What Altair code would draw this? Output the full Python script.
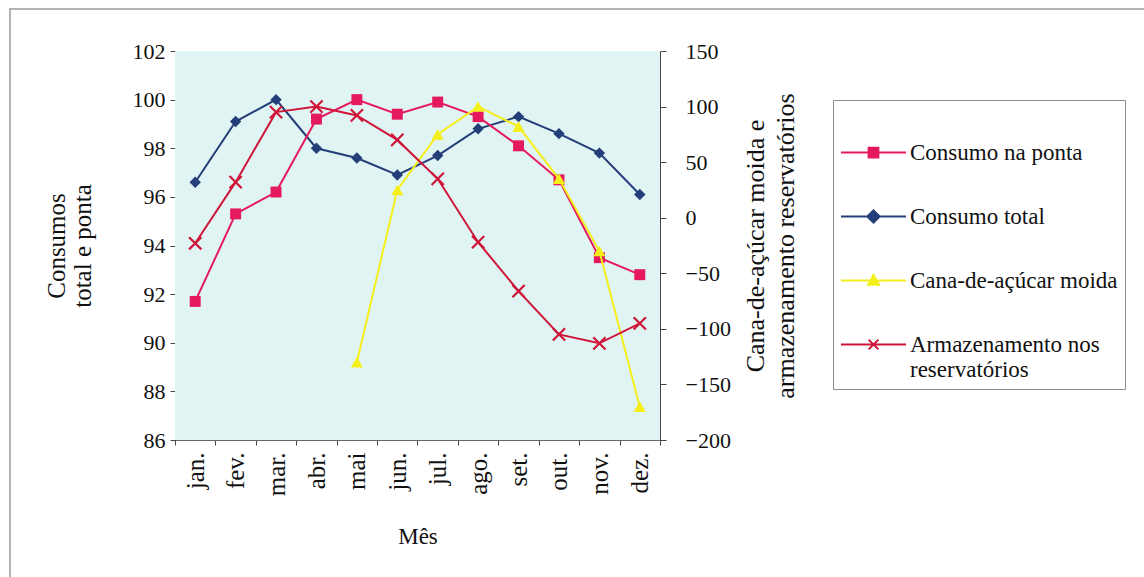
import altair as alt
import pandas as pd

# ---------------- data ----------------
meses = ["jan.", "fev.", "mar.", "abr.", "mai", "jun.", "jul.", "ago.", "set.", "out.", "nov.", "dez."]
consumo_ponta = [91.7, 95.3, 96.2, 99.2, 100.0, 99.4, 99.9, 99.3, 98.1, 96.7, 93.5, 92.8]
consumo_total = [96.6, 99.1, 100.0, 98.0, 97.6, 96.9, 97.7, 98.8, 99.3, 98.6, 97.8, 96.1]
cana_meses = ["mai", "jun.", "jul.", "ago.", "set.", "out.", "nov.", "dez."]
cana_moida = [-130, 25, 75, 100, 82, 35, -30, -170]
armazenamento = [-23, 32, 95, 100, 92, 70, 35, -22, -66, -105, -113, -95]

nomes = ["Consumo na ponta", "Consumo total", "Cana-de-açúcar moida", "Armazenamento nos reservatórios"]
cores = ["#E5195E", "#233E78", "#F4EE1A", "#CF1538"]

left_ticks = [86, 88, 90, 92, 94, 96, 98, 100, 102]
right_ticks = [-200, -150, -100, -50, 0, 50, 100, 150]

# legend symbols: line with marker
leg_paths = [
    "M-1,0L1,0M-0.15,-0.15L0.15,-0.15L0.15,0.15L-0.15,0.15Z",
    "M-1,0L1,0M-0.19,0L0,-0.19L0.19,0L0,0.19Z",
    "M-1,0L1,0M0,-0.17L0.17,0.13L-0.17,0.13Z",
    "M-1,0L1,0M-0.15,-0.15L0.15,0.15M-0.15,0.15L0.15,-0.15",
]
x_shape = "M-1,-1L1,1M-1,1L1,-1"

FONT = "Liberation Serif"
FS = 22


def serie_df(nome, xs, ys):
    return pd.DataFrame({"mes": xs, "valor": ys, "serie": nome})


df_ponta = serie_df(nomes[0], meses, consumo_ponta)
df_total = serie_df(nomes[1], meses, consumo_total)
df_cana = serie_df(nomes[2], cana_meses, cana_moida)
df_arm = serie_df(nomes[3], meses, armazenamento)
df_all = pd.concat([df_ponta, df_total, df_cana, df_arm], ignore_index=True)

x_enc = alt.X(
    "mes:N",
    sort=meses,
    scale=alt.Scale(domain=meses),
    axis=alt.Axis(
        title="Mês",
        labelAngle=270,
        labelFontSize=25,
        titleFontSize=23,
        tickBand="extent",
        tickSize=5,
        labelPadding=7,
        titlePadding=30,
        domainColor="#666666",
        tickColor="#444444",
    ),
)

y_left = alt.Y(
    "valor:Q",
    scale=alt.Scale(domain=[86, 102], nice=False, zero=False),
    axis=alt.Axis(
        values=left_ticks,
        title=["Consumos", "total e ponta"],
        titleFontSize=25,
        titleLineHeight=26,
        tickSize=5,
        labelPadding=5,
        titlePadding=37,
        domainColor="#444444",
        tickColor="#444444",
    ),
)

y_right = alt.Y(
    "valor:Q",
    scale=alt.Scale(domain=[-200, 150], nice=False, zero=False),
    axis=alt.Axis(
        orient="right",
        values=right_ticks,
        title=["Cana-de-açúcar moida e", "armazenamento reservatórios"],
        titleAngle=270,
        titleBaseline="top",
        titleFontSize=26,
        titleLineHeight=30,
        tickSize=6,
        labelPadding=19,
        titlePadding=-18,
        domainColor="#444444",
        tickColor="#444444",
    ),
)


def camada(df, cor, y_enc, forma, tamanho, filled=True, sw=1):
    base = alt.Chart(df).encode(x=x_enc, y=y_enc)
    linha = base.mark_line(color=cor, strokeWidth=2)
    pts = base.mark_point(shape=forma, color=cor, filled=filled, size=tamanho, opacity=1, strokeWidth=sw)
    return [linha, pts]


left = alt.layer(
    *camada(df_total, cores[1], y_left, "diamond", 130),
    *camada(df_ponta, cores[0], y_left, "square", 120),
)
right = alt.layer(
    *camada(df_cana, cores[2], y_right, "triangle-up", 150),
    *camada(df_arm, cores[3], y_right, x_shape, 150, filled=False, sw=2.2),
)

leg = alt.Legend(
    orient="none",
    legendX=658,
    legendY=49,
    title=" ",
    titleFontSize=9,
    titlePadding=3,
    labelFont=FONT,
    labelFontSize=23,
    labelColor="#111111",
    labelLimit=400,
    labelOffset=3,
    labelExpr="datum.label == 'Armazenamento nos reservatórios' ? ['Armazenamento nos', 'reservatórios'] : datum.label",
    symbolSize=4225,
    symbolStrokeWidth=2,
    rowPadding=18,
    padding=7,
    strokeColor="#8c8c8c",
    fillColor="#ffffff",
)

legenda = (
    alt.Chart(df_all)
    .mark_point(filled=True, opacity=1)
    .encode(
        fill=alt.Fill("serie:N", scale=alt.Scale(domain=nomes, range=cores), legend=leg),
        stroke=alt.Stroke("serie:N", scale=alt.Scale(domain=nomes, range=cores), legend=leg),
        shape=alt.Shape("serie:N", scale=alt.Scale(domain=nomes, range=leg_paths), legend=leg),
    )
    .transform_filter("false")
)

moldura = (
    alt.Chart(pd.DataFrame({"a": [0]}))
    .mark_rect(fill="transparent", stroke="#9a9a9a", strokeWidth=1.5)
    .encode(x=alt.value(-165), x2=alt.value(1200), y=alt.value(-42), y2=alt.value(620))
)

fundo = (
    alt.Chart(pd.DataFrame({"a": [0]}))
    .mark_rect(fill="#E0F4F4", strokeWidth=0)
    .encode(x=alt.value(0), x2=alt.value(485), y=alt.value(0), y2=alt.value(389))
)

chart = (
    alt.layer(moldura, fundo, left, right, legenda)
    .resolve_scale(y="independent")
    .properties(
        width=485,
        height=389,
        autosize=alt.AutoSizeParams(type="none"),
        padding={"left": 175, "top": 51, "right": 484, "bottom": 137},
        background="#ffffff",
    )
    .configure_view(stroke="transparent")
    .configure_axis(
        labelFont=FONT,
        titleFont=FONT,
        labelFontSize=FS,
        titleFontSize=FS,
        labelColor="#111111",
        titleColor="#111111",
        titleFontWeight="normal",
        grid=False,
    )
)

chart.save("out.html", embed_options={"renderer": "svg", "actions": False})
